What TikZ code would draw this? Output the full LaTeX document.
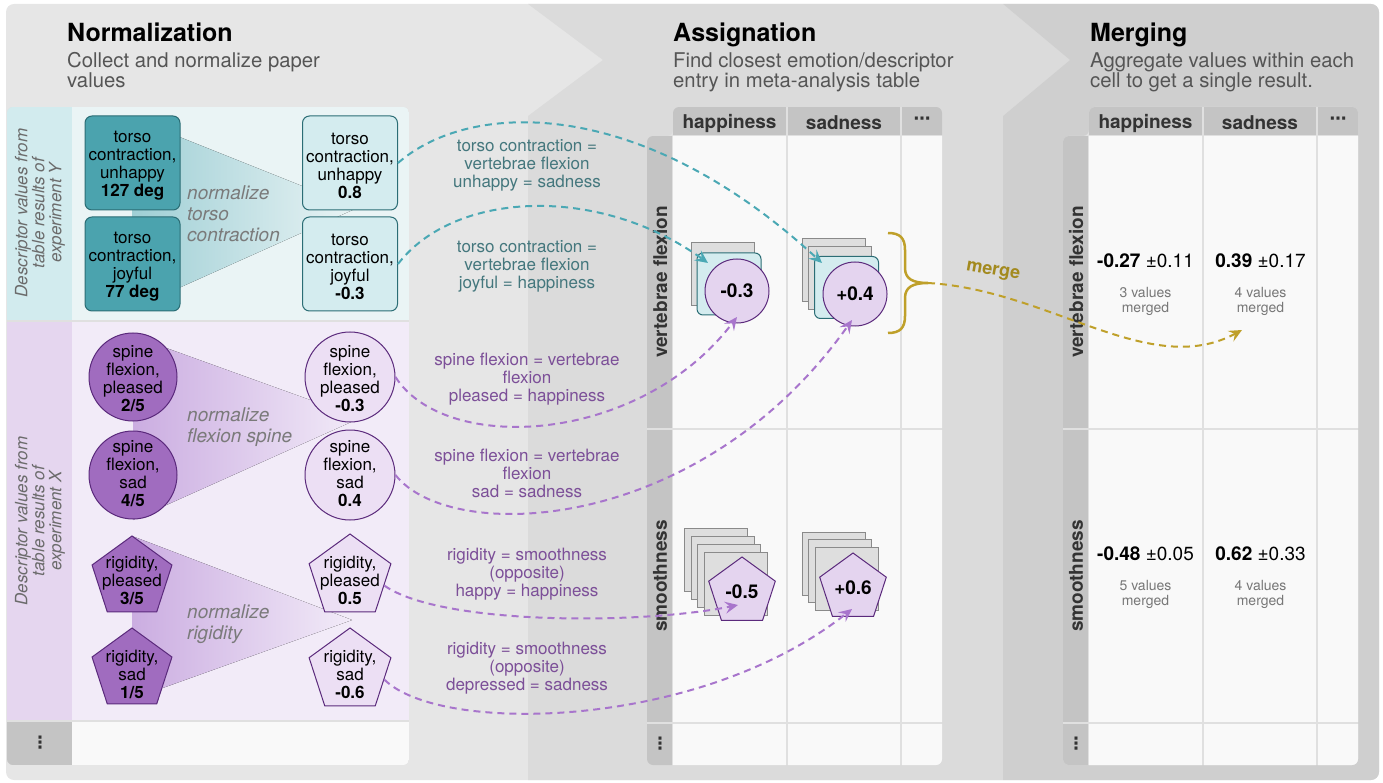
\documentclass[tikz,border=0pt]{standalone}
\usepackage{fontspec}
\setmainfont{TeX Gyre Heros}
\newfontfamily\dejavu{DejaVu Sans}
\usetikzlibrary{shapes.geometric,arrows.meta}
\definecolor{pone}{HTML}{E6E6E6}
\definecolor{ptwo}{HTML}{DBDBDB}
\definecolor{pthree}{HTML}{CFCFCF}
\definecolor{tealdark}{HTML}{4BA3AE}
\definecolor{tealedge}{HTML}{2B6D75}
\definecolor{teallight}{HTML}{D4ECEF}
\definecolor{tealstrip}{HTML}{D2EBEE}
\definecolor{tealbg}{HTML}{EAF4F5}
\definecolor{tealfunnel}{HTML}{9FCFD5}
\definecolor{tealarrow}{HTML}{4AA8B4}
\definecolor{tealtext}{HTML}{44777D}
\definecolor{purpdark}{HTML}{A06CBF}
\definecolor{purpedge}{HTML}{5B2A7C}
\definecolor{purplight}{HTML}{ECDFF4}
\definecolor{purpcell}{HTML}{E4D4EF}
\definecolor{purpstrip}{HTML}{E5D6EF}
\definecolor{purpbg}{HTML}{F2EBF8}
\definecolor{purpfunnel}{HTML}{CBADE1}
\definecolor{purparrow}{HTML}{A875CC}
\definecolor{purptext}{HTML}{7C4F98}
\definecolor{mgold}{HTML}{BFA02A}
\definecolor{goldtext}{HTML}{A38A1F}
\definecolor{hdr}{HTML}{C4C4C4}
\definecolor{cellbg}{HTML}{F9F9F9}
\definecolor{gridln}{HTML}{E0E0E0}
\definecolor{sqfill}{HTML}{DEDEDE}
\definecolor{sqedge}{HTML}{8A8A8A}
\definecolor{hdrtextc}{HTML}{333333}
\definecolor{subgray}{HTML}{555555}
\definecolor{normgray}{HTML}{7A7A7A}
\definecolor{stripgray}{HTML}{6B6B6B}
\definecolor{smallgray}{HTML}{777777}
\tikzset{
  body/.style={font=\fontsize{17}{18}\selectfont, align=center, inner sep=0pt},
  ttl/.style={font=\fontsize{25}{26}\selectfont\bfseries, anchor=base west, inner sep=0pt},
  subttl/.style={font=\fontsize{20.3}{20}\selectfont, text=subgray, anchor=base west, align=left, inner sep=0pt},
  srcbox/.style={rectangle, rounded corners=7pt, draw=tealedge, fill=tealdark, line width=1pt, minimum width=95pt, minimum height=94pt, inner sep=0pt},
  tgtbox/.style={srcbox, fill=teallight},
  srccirc/.style={circle, draw=purpedge, fill=purpdark, line width=1pt, minimum size=88pt, inner sep=0pt},
  tgtcirc/.style={srccirc, fill=purplight, minimum size=90pt},
  srcpent/.style={regular polygon, regular polygon sides=5, draw=purpedge, fill=purpdark, line width=1pt, minimum size=84pt, inner sep=0pt},
  tgtpent/.style={srcpent, fill=purplight, minimum size=86pt},
  normtext/.style={font=\fontsize{19}{21}\selectfont\itshape, text=normgray, anchor=base west, align=left, inner sep=0pt},
  striptext/.style={font=\fontsize{17}{17}\selectfont\itshape, text=stripgray, align=center, rotate=90, inner sep=0pt},
  dasharrow/.style={dash pattern=on 7pt off 5pt, line width=2pt, -{Stealth[length=13pt,width=12pt,inset=5pt]}},
  graysq/.style={rectangle, draw=sqedge, fill=sqfill, line width=1pt, minimum width=63pt, minimum height=63pt, inner sep=0pt},
  tealsq/.style={rectangle, rounded corners=6pt, draw=tealedge, fill=teallight, line width=1pt, minimum width=64pt, minimum height=62pt, inner sep=0pt},
  valcirc/.style={circle, draw=purpedge, fill=purpcell, line width=1pt, minimum size=64pt, inner sep=0pt, font=\fontsize{19}{20}\selectfont\bfseries},
  valpent/.style={regular polygon, regular polygon sides=5, draw=purpedge, fill=purpcell, line width=1pt, minimum size=70pt, inner sep=0pt, font=\fontsize{19}{20}\selectfont\bfseries},
  hdrtext/.style={font=\fontsize{19}{20}\selectfont\bfseries, text=hdrtextc, inner sep=0pt},
  rowtext/.style={hdrtext, rotate=90},
  dotsym/.style={font=\dejavu\bfseries\fontsize{17}{17}\selectfont, text=hdrtextc, inner sep=0pt},
  valtext/.style={font=\fontsize{19}{20}\selectfont, inner sep=0pt},
  smalltext/.style={font=\fontsize{14}{15}\selectfont, text=smallgray, align=center, inner sep=0pt},
}
\newcommand\tblframe[2]{%
\begin{scope}[xshift=#1pt]
\begin{scope}
\clip[rounded corners=6pt] (673,107) -- (942,107) -- (942,765) -- (647,765) -- (647,136) -- (673,136) -- cycle;
\fill[gridln] (640,100) rectangle (950,770);
\fill[hdr] (673,107) rectangle (786,135);
\fill[hdr] (788,107) rectangle (900,135);
\fill[hdr] (902,107) rectangle (950,135);
\fill[hdr] (647,136) rectangle (672,428);
\fill[hdr] (647,430) rectangle (672,722);
\fill[hdr] (647,724) rectangle (672,770);
\foreach \xa/\xb in {673/786,788/900,902/950}{
  \foreach \ya/\yb in {136/428,430/722,724/770}{
    \fill[cellbg] (\xa,\ya) rectangle (\xb,\yb);}}
\end{scope}
\node[hdrtext] (#2h1) at (729.5,123) {happiness};
\node[hdrtext] (#2h2) at (844,123) {sadness};
\node[dotsym] (#2h3) at (922,121) {⋯};
\node[rowtext] (#2r1) at (660,282) {vertebrae flexion};
\node[rowtext] (#2r2) at (660,576) {smoothness};
\node[dotsym] (#2r3) at (660,744) {⋮};
\end{scope}}
\begin{document}
\begin{tikzpicture}[x=1pt,y=-1pt]
\useasboundingbox (0,0) rectangle (1383,783);
% panels
\begin{scope}
\clip[rounded corners=8pt] (6,4) rectangle (1379,780);
\fill[pone] (0,0) rectangle (1383,783);
\fill[ptwo] (528,0) -- (1003,0) -- (1003,4) -- (1070,60) -- (1003,116) -- (1003,783) -- (528,783) -- (528,116) -- (603,60) -- (528,4) -- cycle;
\fill[pthree] (1003,0) -- (1383,0) -- (1383,783) -- (1003,783) -- (1003,116) -- (1070,60) -- (1003,4) -- cycle;
\end{scope}
% titles
\node[ttl] (t1) at (67,42) {Normalization};
\node[subttl] (s1) at (67,87.5) {Collect and normalize paper\\values};
\node[ttl] (t2) at (673,42) {Assignation};
\node[subttl] (s2) at (673,87.5) {Find closest emotion/descriptor\\entry in meta-analysis table};
\node[ttl] (t3) at (1090,42) {Merging};
\node[subttl] (s3) at (1090,87.5) {Aggregate values within each\\cell to get a single result.};
% left box
\begin{scope}
\clip[rounded corners=6pt] (7,107) rectangle (409,765);
\fill[gridln] (7,107) rectangle (409,765);
\fill[tealstrip] (7,107) rectangle (72,320);
\fill[tealbg] (72,107) rectangle (409,320);
\fill[purpstrip] (7,322) rectangle (72,720);
\fill[purpbg] (72,322) rectangle (409,720);
\fill[hdr] (7,722) rectangle (72,765);
\fill[cellbg] (72,722) rectangle (409,765);
\end{scope}
\node[striptext] (sy) at (40,213) {Descriptor values from\\table results of\\experiment Y};
\node[striptext] (sx) at (40,521) {Descriptor values from\\table results of\\experiment X};
\node[dotsym] (ld) at (40,743) {⋮};
% funnels
\fill[left color=tealfunnel, right color=tealbg] (132,118) -- (357,208) -- (132,309) -- cycle;
\fill[left color=purpfunnel, right color=purpbg] (133,336) -- (360,418) -- (133,520) -- cycle;
\fill[left color=purpfunnel, right color=purpbg] (132,536) -- (352,620) -- (132,699) -- cycle;
\node[normtext] (n1) at (187,242) {normalize\\torso\\contraction};
\node[normtext] (n2) at (187,442) {normalize\\flexion spine};
\node[normtext] (n3) at (187,639) {normalize\\rigidity};
% teal nodes
\node[srcbox] (ts1) at (132.5,163) {};
\node[body] at (132.5,166) {torso\\contraction,\\unhappy\\\textbf{127 deg}};
\node[srcbox] (ts2) at (132.5,264) {};
\node[body] at (132.5,267) {torso\\contraction,\\joyful\\\textbf{77 deg}};
\node[tgtbox] (tt1) at (350,163) {};
\node[body] at (350,166) {torso\\contraction,\\unhappy\\\textbf{0.8}};
\node[tgtbox] (tt2) at (350,264) {};
\node[body] at (350,267) {torso\\contraction,\\joyful\\\textbf{-0.3}};
% circles
\node[srccirc] (sc1) at (133,377) {};
\node[body] at (133,379) {spine\\flexion,\\pleased\\\textbf{2/5}};
\node[srccirc] (sc2) at (133,475) {};
\node[body] at (133,474) {spine\\flexion,\\sad\\\textbf{4/5}};
\node[tgtcirc] (tc1) at (350,377) {};
\node[body] at (350,379) {spine\\flexion,\\pleased\\\textbf{-0.3}};
\node[tgtcirc] (tc2) at (350,475) {};
\node[body] at (350,474) {spine\\flexion,\\sad\\\textbf{0.4}};
% pentagons
\node[srcpent] (sp1) at (132,578) {};
\node[body] at (132,580) {rigidity,\\pleased\\\textbf{3/5}};
\node[srcpent] (sp2) at (132,670) {};
\node[body] at (132,674) {rigidity,\\sad\\\textbf{1/5}};
\node[tgtpent] (tp1) at (350,577) {};
\node[body] at (350,580) {rigidity,\\pleased\\\textbf{0.5}};
\node[tgtpent] (tp2) at (350,671) {};
\node[body] at (350,674) {rigidity,\\sad\\\textbf{-0.6}};
% mapping labels
\node[body, text=tealtext] (m1) at (527,165) {torso contraction =\\vertebrae flexion\\unhappy = sadness};
\node[body, text=tealtext] (m2) at (527,266) {torso contraction =\\vertebrae flexion\\joyful = happiness};
\node[body, text=purptext] (m3) at (527,379) {spine flexion = vertebrae\\flexion\\pleased = happiness};
\node[body, text=purptext] (m4) at (527,473) {spine flexion = vertebrae\\flexion\\sad = sadness};
\node[body, text=purptext] (m5) at (527,574) {rigidity = smoothness\\(opposite)\\happy = happiness};
\node[body, text=purptext] (m6) at (527,668) {rigidity = smoothness\\(opposite)\\depressed = sadness};
% tables
\tblframe{0}{a}
\tblframe{416}{b}
% assignation cell contents
\node[graysq] (g11a) at (722.5,274.5) {};
\node[tealsq] (q11) at (729,284) {};
\node[valcirc] (c11) at (737,291) {-0.3};
\node[graysq] (g12a) at (833.5,270) {};
\node[graysq] (g12b) at (839.5,278.5) {};
\node[tealsq] (q12) at (846.5,287.5) {};
\node[valcirc] (c12) at (855,294) {+0.4};
\node[graysq] (g21a) at (715.5,559.5) {};
\node[graysq] (g21b) at (722.5,567.5) {};
\node[graysq] (g21c) at (728.5,575.5) {};
\node[graysq] (g21d) at (735.5,583.5) {};
\node[valpent] (p21) at (742,592) {-0.5};
\node[graysq] (g22a) at (833.5,563.5) {};
\node[graysq] (g22b) at (839.5,570.5) {};
\node[graysq] (g22c) at (846.5,578.5) {};
\node[valpent] (p22) at (853,588) {+0.6};
% merged values
\node[valtext] (v11) at (1145.5,261) {\textbf{-0.27} ±0.11};
\node[smalltext] (w11) at (1145.5,301) {3 values\\merged};
\node[valtext] (v12) at (1260.5,261) {\textbf{0.39} ±0.17};
\node[smalltext] (w12) at (1260.5,301) {4 values\\merged};
\node[valtext] (v21) at (1145.5,554) {\textbf{-0.48} ±0.05};
\node[smalltext] (w21) at (1145.5,594) {5 values\\merged};
\node[valtext] (v22) at (1260.5,554) {\textbf{0.62} ±0.33};
\node[smalltext] (w22) at (1260.5,594) {4 values\\merged};
% arrow ends
\coordinate (e1) at (822,263);
\coordinate (e2) at (708,263);
\coordinate (e3) at (737,317);
\coordinate (e4) at (852,320);
\coordinate (e5) at (738,605);
\coordinate (e6) at (852,609);
\coordinate (btip) at (928,283);
\coordinate (e7) at (1242,330);
% arrows
\draw[dasharrow, tealarrow] (tt1.east) .. controls (470,100) and (640,95) .. (e1);
\draw[dasharrow, tealarrow] (tt2.east) .. controls (455,190) and (600,185) .. (e2);
\draw[dasharrow, purparrow] (tc1.east) .. controls (445,455) and (640,445) .. (e3);
\draw[dasharrow, purparrow] (tc2.east) .. controls (450,545) and (700,535) .. (e4);
\draw[dasharrow, purparrow] (tp1.-14) .. controls (440,625) and (640,625) .. (e5);
\draw[dasharrow, purparrow] (tp2.-14) .. controls (440,735) and (700,730) .. (e6);
% brace and merge
\draw[mgold, line width=2.5pt] (888,233) .. controls (900,233) and (905,238) .. (905,250) -- (905,268) .. controls (905,279) and (913,283) .. (btip) .. controls (913,283) and (905,287) .. (905,298) -- (905,316) .. controls (905,328) and (900,333) .. (888,333);
\draw[dasharrow, mgold] (btip) .. controls (1050,290) and (1150,380) .. (e7);
\node[font=\fontsize{18}{18}\selectfont\bfseries, text=goldtext, rotate=-10, inner sep=0pt] (mg) at (993,272) {merge};
\end{tikzpicture}
\end{document}
